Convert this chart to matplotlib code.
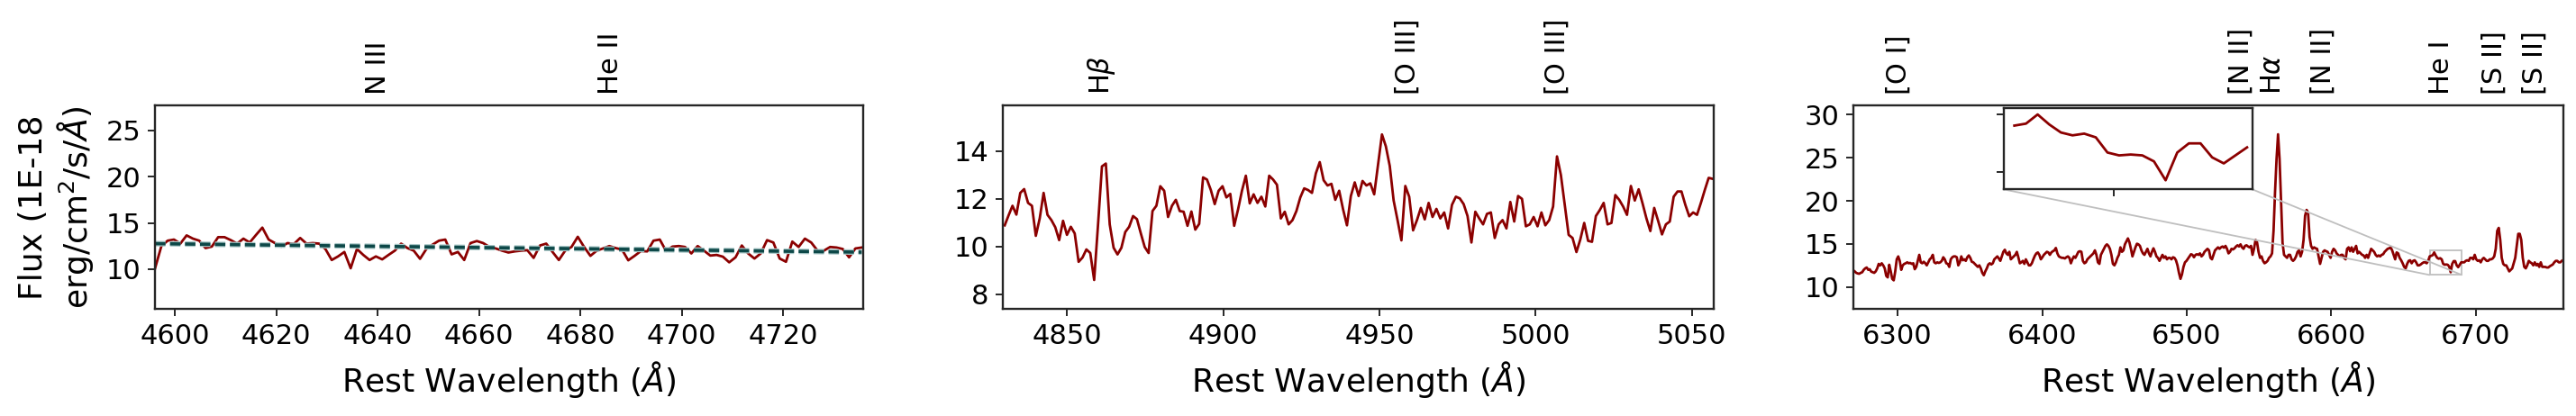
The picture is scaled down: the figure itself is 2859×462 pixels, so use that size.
import numpy as np
import matplotlib
matplotlib.use("Agg")
import matplotlib.pyplot as plt
import matplotlib.patheffects as pe
import matplotlib.transforms as mtransforms
from matplotlib.ticker import MultipleLocator
from mpl_toolkits.axes_grid1.inset_locator import mark_inset

# --- panel 1: N III / He II region ---
flux1 = [10.1, 12.5, 13.08, 13.2, 12.76, 13.65, 13.3, 13.08, 12.28, 12.44, 13.46, 13.46,
         13.14, 12.76, 13.3, 12.88, 13.7, 14.49, 13.2, 12.82, 12.44, 12.82, 12.72, 13.37,
         12.76, 12.82, 12.76, 12.18, 10.99, 11.38, 11.86, 10.1, 12.18, 11.54, 10.99, 11.38,
         11.06, 11.54, 12.0, 12.76, 12.28, 12.0, 11.12, 12.18, 12.66, 13.08, 13.2, 11.6,
         11.86, 10.99, 12.82, 13.04, 12.82, 12.4, 12.24, 12.0, 11.8,
         11.92, 12.0, 12.05, 11.22, 12.56, 12.76, 11.86, 10.99, 12.0, 12.4, 13.5, 12.4,
         11.44, 12.0, 12.24, 12.5, 12.28, 12.12, 10.96, 11.44, 11.96, 11.92, 13.08, 13.2,
         11.96, 12.44, 12.5, 12.4, 11.7, 12.5, 12.0, 11.47, 11.54, 11.35, 10.74, 11.28,
         12.56, 11.7, 11.15, 11.7, 13.14, 12.88, 11.15, 10.8, 12.98, 12.4, 13.3, 12.88,
         12.0, 12.0, 12.4, 12.34, 12.18, 11.28, 12.24, 12.34]
wave1 = np.linspace(4596.05, 4735.5, len(flux1))
cont1_wave = [4596.05, 4735.5]
cont1_flux = [12.76, 11.84]
lines1 = ["N III", "He II"]
lines1_wave = [4640, 4686]

# --- panel 2: Hbeta / [O III] region ---
flux2 = [10.88, 11.3, 11.7, 11.33, 12.24, 12.4, 11.82, 11.7, 10.44, 11.17, 12.24, 11.32,
         11.1, 10.8, 10.26, 11.07, 10.48, 10.82, 10.54, 9.35, 9.53, 9.87, 9.72, 8.59,
         10.92, 13.35, 13.47, 10.92, 9.94, 9.66, 9.94, 10.6, 10.82, 11.27, 11.14, 10.54,
         9.97, 9.72, 11.48, 11.7, 12.52, 12.33, 11.23, 11.7, 11.95, 11.48, 11.45, 10.86,
         11.46, 10.7, 10.94, 12.89, 12.8, 12.36, 11.77, 12.33, 12.52, 12.05, 12.2, 10.86,
         11.55, 12.33, 12.96, 11.8, 12.18, 11.82, 12.08, 11.67, 12.96, 12.8, 12.58, 11.17,
         11.45, 10.92, 11.1, 11.48, 12.05, 12.43, 12.36, 12.24, 13.06, 13.53, 12.77, 12.55,
         12.62, 11.95, 12.33, 11.55, 10.88, 12.11, 12.68, 12.11, 12.74,
         12.55, 12.64, 12.18, 13.43, 14.69, 14.19, 13.37, 11.92, 11.1, 10.25, 12.53, 12.08,
         10.67, 11.1, 11.61, 11.13, 11.82, 11.23, 11.57, 11.17, 11.42, 10.75, 11.74, 12.08,
         12.01, 11.77, 11.27, 10.16, 11.45, 11.17, 10.92, 11.36, 11.42, 10.35, 10.92, 11.1,
         10.75, 11.86, 11.04, 12.11, 11.99, 10.84, 10.92, 11.23, 10.84, 11.42, 10.88, 11.1,
         11.67, 13.77, 12.99, 11.74, 10.48, 10.35, 9.76, 10.29, 10.98, 10.23, 10.19, 11.27,
         11.52, 11.82, 10.92, 10.98, 12.15, 11.95, 11.67, 11.32, 12.53, 11.92, 12.39, 11.8,
         11.17, 10.64, 11.61, 11.07, 10.5, 10.92, 11.04, 12.08, 12.3, 12.3, 11.74, 11.26,
         11.42, 11.32, 11.82, 12.36, 12.87, 12.83]
wave2 = np.linspace(4830.1, 5056.6, len(flux2))
lines2 = [r"H$\beta$", "[O III]", "[O III]"]
lines2_wave = [4861, 4959, 5007]

# --- panel 3: Halpha / [N II] / [S II] region ---
flux3 = [11.81, 11.64, 11.57, 11.53, 11.64, 11.71, 11.99, 12.16, 12.26, 11.99, 12.06, 11.78,
         11.71, 11.64, 11.81, 12.16, 12.68, 12.51, 12.75, 12.51, 12.16, 11.29, 11.11, 12.58,
         11.81, 10.94, 10.77, 11.81, 13.21, 13.55, 13.03, 11.99, 12.51, 12.68, 12.75, 12.86,
         12.75, 12.79, 12.68, 12.75, 12.06, 12.33, 13.03, 13.73, 12.86, 12.75, 12.93, 12.75,
         12.51, 12.86, 13.21, 13.38, 13.73, 12.86, 12.75, 12.86, 12.79, 12.86, 13.03, 13.45,
         13.21, 12.75, 12.68, 12.33, 13.21, 13.45, 13.55, 13.55, 13.45, 12.51, 12.86, 13.55,
         13.1, 13.21, 13.03, 13.45, 13.66, 13.38, 12.93, 12.86, 12.68, 12.51, 12.33, 12.51,
         12.16, 11.64, 11.36, 11.81, 12.16, 12.61, 12.75, 12.61, 12.75, 13.21, 13.38, 13.55,
         13.31, 13.03, 13.55, 14.08, 14.32, 13.9, 13.73, 14.08, 13.21, 13.38, 13.55, 13.73,
         14.08, 13.45, 12.75, 12.86, 13.03, 12.68, 13.21, 12.86, 12.51, 12.51, 12.75, 13.21,
         13.62, 13.9, 14.01, 13.73, 13.21, 13.45, 13.73, 13.9, 14.08, 14.01, 13.73, 14.01,
         14.15, 14.25, 14.53, 13.9, 13.55, 13.45, 13.38, 13.38, 13.31, 13.45, 13.55, 13.38,
         12.75, 13.21, 13.55, 13.38, 13.73, 14.08, 14.15, 14.08, 13.03, 12.75, 12.86, 13.21,
         13.38, 13.55, 13.73, 13.9, 14.25, 13.73, 12.86, 12.68,
         13.73, 14.08, 14.43, 14.77, 14.95, 14.77, 14.43, 13.73, 12.68, 12.51, 12.86, 13.38,
         13.73, 14.6, 14.08, 14.25, 14.95, 15.3, 15.64, 15.19, 14.43, 13.55, 14.08, 14.6,
         15.02, 14.95, 14.77, 14.25, 13.9, 13.73, 14.08, 14.43, 13.9, 13.55, 14.08, 14.49,
         14.08, 13.55, 13.38, 13.03, 13.38, 13.73, 13.38, 13.55, 13.21, 13.38, 13.38, 13.21,
         13.45, 13.38, 13.1, 12.51, 11.64, 10.94, 11.46, 12.33, 12.86, 13.03, 13.28, 13.55,
         13.8, 13.73, 13.45, 13.73, 13.8, 13.73, 13.9, 13.55, 13.73, 14.08, 14.25, 14.43,
         14.25, 13.38, 13.21, 13.73, 14.25, 14.43, 14.6, 14.43, 14.6, 14.7, 14.56, 14.77,
         14.43, 13.9, 14.08, 14.43, 14.36, 14.49, 14.7, 14.84, 14.7, 14.95, 14.6, 14.43,
         14.77, 14.84, 14.7, 14.6, 14.77, 13.73, 14.43, 15.47, 15.19, 14.08, 13.38, 13.55,
         13.03, 12.75, 12.86, 13.03, 13.38, 13.55, 13.9, 16.52, 21.05, 24.88, 27.73, 24.88,
         20.0, 15.12, 13.73, 13.55, 13.38, 13.73, 13.73, 13.21, 13.03, 13.21, 13.55, 14.08,
         14.25, 13.55, 14.08, 15.47, 18.26, 18.95, 18.61, 15.82, 14.77, 14.43, 14.6, 14.49,
         14.43, 13.55, 12.68, 13.38, 14.08, 14.25, 14.15, 14.08, 13.73, 13.38, 14.08, 14.43,
         14.25, 13.9, 13.73, 13.55, 13.73,
         13.73, 13.38, 13.21, 14.43, 14.6, 14.15, 14.6, 14.08, 14.43, 14.77, 13.9, 14.08,
         13.9, 13.73, 13.66, 13.38, 13.73, 13.38, 13.9, 14.43, 14.25, 14.08, 13.73, 13.55,
         13.66, 13.55, 13.73, 13.8, 14.08, 14.25, 14.43, 14.49, 14.6, 14.25, 13.73, 13.21,
         14.01, 13.9, 13.38, 13.1, 12.75, 12.33, 12.16, 12.68, 13.03, 13.1, 12.75, 13.03,
         13.1, 12.86, 12.51, 12.51, 12.61, 12.75, 12.86, 12.86, 12.75, 13.03, 13.55, 13.62,
         13.69, 14.01, 13.66, 13.38, 13.28, 13.34, 13.21, 12.68, 12.58, 12.61, 12.58, 12.37,
         11.71, 12.68, 13.0, 13.0, 12.51, 12.3, 12.58, 12.86, 12.86, 12.86, 13.03, 13.1,
         13.03, 13.38, 13.38, 13.21, 13.73, 13.21, 13.03, 13.1, 12.86, 13.21, 13.38, 13.21,
         13.03, 13.03, 13.21, 13.21, 13.31, 13.55, 14.43, 16.52, 16.86, 15.47, 13.38, 12.68,
         12.51, 12.51, 12.16, 11.81, 11.99, 12.16, 12.75, 13.38, 14.77, 16.17, 16.17, 15.47,
         13.38, 12.33, 12.16, 12.51, 13.03, 12.86, 12.75, 12.51, 12.86, 12.51, 12.68, 12.33,
         12.86, 12.33, 12.33, 12.33, 12.26, 12.26, 12.4, 12.51, 12.61, 12.86, 13.03, 13.03,
         12.86, 12.86, 13.03]
wave3 = np.linspace(6270.3, 6759.5, len(flux3))
lines3 = ["[O I]", "[N II]", r"H$\alpha$", "[N II]", "He I", "[S II]", "[S II]"]
lines3_label_x = [6300.9, 6537.3, 6559.7, 6594.0, 6676.0, 6712.8, 6740.8]

spec_color = "#8b0000"
axis_color = "#262626"

fig = plt.figure(figsize=(28.59, 4.62), dpi=100)
ax1 = fig.add_axes([0.0602, 0.2576, 0.2749, 0.4892])
ax2 = fig.add_axes([0.3893, 0.2576, 0.2760, 0.4892])
ax3 = fig.add_axes([0.7196, 0.2576, 0.2755, 0.4892])


def style_axis(ax):
    for sp in ax.spines.values():
        sp.set_linewidth(1.7)
        sp.set_color(axis_color)
    ax.tick_params(direction="out", length=5.5, width=1.4, color=axis_color,
                   labelsize=22, pad=6)
    ax.set_xlabel(r"Rest Wavelength ($\AA$)", fontsize=26, labelpad=8)


def label_lines(ax, names, xs):
    trans = mtransforms.blended_transform_factory(ax.transData, ax.transAxes)
    for name, x in zip(names, xs):
        ax.text(x, 1.055, name, transform=trans, rotation=90, ha="center",
                va="bottom", fontsize=22)


# panel 1
ax1.plot(wave1, flux1, color=spec_color, lw=2.0)
ax1.plot(cont1_wave, cont1_flux, color="#0d4848", lw=2.6, ls=(0, (3.2, 1.4)),
         path_effects=[pe.withStroke(linewidth=4.4, foreground="#a9c7c7")])
ax1.set_xlim(4596.05, 4735.8)
ax1.set_ylim(5.72, 27.69)
ax1.xaxis.set_major_locator(MultipleLocator(20))
ax1.yaxis.set_major_locator(MultipleLocator(5))
style_axis(ax1)
ax1.set_ylabel("Flux (1E-18\nerg/cm$^2$/s/$\\AA$)", fontsize=26, labelpad=8)
label_lines(ax1, lines1, lines1_wave)

# panel 2
ax2.plot(wave2, flux2, color=spec_color, lw=2.0)
ax2.set_xlim(4829.5, 5057.0)
ax2.set_ylim(7.38, 15.91)
ax2.xaxis.set_major_locator(MultipleLocator(50))
ax2.yaxis.set_major_locator(MultipleLocator(2))
style_axis(ax2)
label_lines(ax2, lines2, lines2_wave)

# panel 3
ax3.plot(wave3, flux3, color=spec_color, lw=2.0)
ax3.set_xlim(6269.6, 6760.6)
ax3.set_ylim(7.46, 31.09)
ax3.xaxis.set_major_locator(MultipleLocator(100))
ax3.yaxis.set_major_locator(MultipleLocator(5))
style_axis(ax3)
label_lines(ax3, lines3, lines3_label_x)

# zoom on He I
axins = ax3.inset_axes([0.2116, 0.5867, 0.3504, 0.398])
sel = (wave3 > 6668.2) & (wave3 < 6690.4)
axins.plot(wave3[sel], np.asarray(flux3)[sel], color=spec_color, lw=2.0)
axins.set_xlim(6668.2, 6690.4)
axins.set_ylim(11.39, 14.22)
axins.set_xticks([6678])
axins.set_yticks([12, 14])
axins.set_xticklabels([])
axins.set_yticklabels([])
for sp in axins.spines.values():
    sp.set_linewidth(1.7)
    sp.set_color(axis_color)
axins.tick_params(direction="out", length=5.5, width=1.4, color=axis_color)
mark_inset(ax3, axins, loc1=3, loc2=4, fc="none", ec="0.75", lw=1.3)

fig.savefig("out.png", dpi=100)
